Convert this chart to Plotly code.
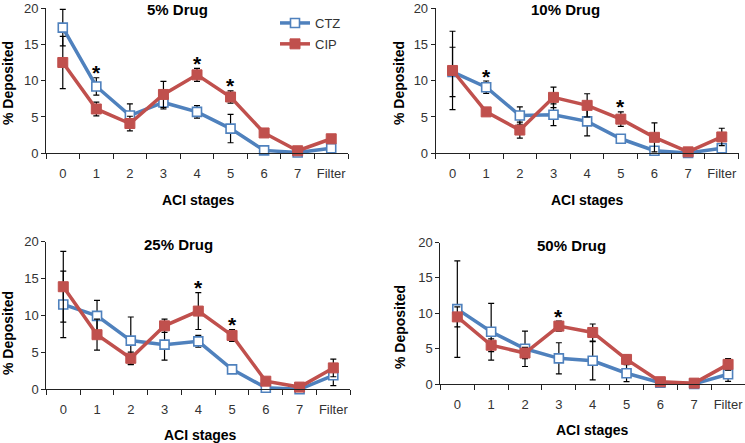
import plotly.graph_objects as go

W, H = 745, 443

stages = ["0", "1", "2", "3", "4", "5", "6", "7", "Filter"]

# 5% Drug
ctz5 = [17.3, 9.2, 5.2, 7.0, 5.7, 3.4, 0.4, 0.1, 0.7]
ctz5_err = [2.5, 1.2, 1.6, 0.9, 0.85, 1.95, 0.2, 0.1, 0.3]
cip5 = [12.5, 6.1, 4.1, 8.1, 10.8, 7.75, 2.8, 0.35, 2.0]
cip5_err = [3.6, 0.95, 1.0, 1.8, 0.9, 0.85, 0.3, 0.2, 0.4]
stars5 = [1, 4, 5]

# 10% Drug
ctz10 = [11.2, 9.1, 5.2, 5.3, 4.4, 2.0, 0.35, 0.05, 0.7]
ctz10_err = [3.4, 0.85, 1.2, 1.5, 2.0, 0.3, 0.2, 0.05, 0.3]
cip10 = [11.4, 5.7, 3.2, 7.7, 6.6, 4.7, 2.2, 0.2, 2.25]
cip10_err = [5.4, 0.3, 1.1, 1.4, 1.6, 1.0, 2.0, 0.1, 1.2]
stars10 = [1, 5]

# 25% Drug
ctz25 = [11.5, 9.95, 6.6, 6.05, 6.5, 2.7, 0.2, 0.0, 1.9]
ctz25_err = [4.5, 2.1, 3.2, 2.1, 0.8, 0.3, 0.2, 0.1, 1.4]
cip25 = [13.9, 7.4, 4.2, 8.6, 10.6, 7.3, 1.1, 0.3, 2.9]
cip25_err = [4.8, 2.1, 0.85, 0.9, 2.5, 0.8, 0.3, 0.2, 1.2]
stars25 = [4, 5]

# 50% Drug
ctz50 = [10.6, 7.4, 5.0, 3.65, 3.3, 1.55, 0.2, 0.05, 1.4]
ctz50_err = [6.8, 4.0, 2.5, 2.2, 2.7, 1.2, 0.1, 0.05, 1.0]
cip50 = [9.5, 5.5, 4.4, 8.2, 7.3, 3.5, 0.35, 0.15, 2.8]
cip50_err = [1.4, 0.9, 0.8, 0.7, 1.2, 0.6, 0.2, 0.1, 0.8]
stars50 = [3]

titles = ["5% Drug", "10% Drug", "25% Drug", "50% Drug"]
y_ticks = [0, 5, 10, 15, 20]

BLUE = "#4F81BD"
RED = "#C0504D"
FONT = "Liberation Sans, Arial, sans-serif"


def px(x):
    return x / W


def py(y):
    return 1 - y / H


panels = [
    dict(ctz=ctz5, ce=ctz5_err, cip=cip5, pe=cip5_err, stars=stars5,
         dx=(46, 348), dy=(8, 153.3), title=(177, 9.5), xt=(198, 200), yt=(8, 83)),
    dict(ctz=ctz10, ce=ctz10_err, cip=cip10, pe=cip10_err, stars=stars10,
         dx=(435.7, 738.6), dy=(8, 153.3), title=(565, 9.5), xt=(587, 200), yt=(399, 83)),
    dict(ctz=ctz25, ce=ctz25_err, cip=cip25, pe=cip25_err, stars=stars25,
         dx=(46.4, 350.2), dy=(241.7, 389.3), title=(178, 244), xt=(200, 435), yt=(8, 333)),
    dict(ctz=ctz50, ce=ctz50_err, cip=cip50, pe=cip50_err, stars=stars50,
         dx=(440.4, 745), dy=(242.5, 384.2), title=(571, 246), xt=(592, 430), yt=(400, 327)),
]

fig = go.Figure()
annotations = []
layout = {}

for i, p in enumerate(panels):
    n = "" if i == 0 else str(i + 1)
    xa, ya = "x" + n, "y" + n
    show = i == 0
    fig.add_trace(go.Scatter(
        x=stages, y=p["ctz"], xaxis=xa, yaxis=ya, name="CTZ",
        legendgroup="ctz", showlegend=show, mode="lines+markers",
        line=dict(color=BLUE, width=3.5),
        marker=dict(symbol="square", size=9, color="white",
                    line=dict(color=BLUE, width=1.6)),
        error_y=dict(type="data", array=p["ce"], visible=True,
                     color="#000000", thickness=1.2, width=3),
        cliponaxis=False,
    ))
    fig.add_trace(go.Scatter(
        x=stages, y=p["cip"], xaxis=xa, yaxis=ya, name="CIP",
        legendgroup="cip", showlegend=show, mode="lines+markers",
        line=dict(color=RED, width=3.5),
        marker=dict(symbol="square", size=10, color=RED,
                    line=dict(color=RED, width=1)),
        error_y=dict(type="data", array=p["pe"], visible=True,
                     color="#000000", thickness=1.2, width=3),
        cliponaxis=False,
    ))
    layout["xaxis" + n] = dict(
        domain=[px(p["dx"][0]), px(p["dx"][1])], anchor=ya, automargin=False,
        type="category", categoryorder="array", categoryarray=stages,
        range=[-0.5, 8.5], tickson="boundaries", ticks="outside",
        ticklen=5, tickcolor="#222", tickwidth=1, tickangle=0,
        ticklabelstandoff=8, ticklabeloverflow="allow",
        showline=True, linecolor="#222", linewidth=1,
        showgrid=False, zeroline=False,
        tickfont=dict(family=FONT, size=13, color="#333"),
    )
    layout["yaxis" + n] = dict(
        domain=[py(p["dy"][1]), py(p["dy"][0])], anchor=xa, automargin=False,
        range=[0, 20], tickvals=y_ticks, ticks="outside",
        ticklen=4, tickcolor="#222", tickwidth=1, ticklabeloverflow="allow",
        showline=True, linecolor="#222", linewidth=1,
        showgrid=False, zeroline=False,
        tickfont=dict(family=FONT, size=13, color="#333"),
    )
    # panel title
    annotations.append(dict(
        text="<b>%s</b>" % titles[i], x=px(p["title"][0]), y=py(p["title"][1]),
        xref="paper", yref="paper", xanchor="center", yanchor="middle",
        showarrow=False, font=dict(family=FONT, size=15, color="#000")))
    annotations.append(dict(
        text="<b>ACI stages</b>", x=px(p["xt"][0]), y=py(p["xt"][1]),
        xref="paper", yref="paper", xanchor="center", yanchor="middle",
        showarrow=False, font=dict(family=FONT, size=14, color="#000")))
    annotations.append(dict(
        text="<b>% Deposited</b>", x=px(p["yt"][0]), y=py(p["yt"][1]),
        xref="paper", yref="paper", xanchor="center", yanchor="middle",
        textangle=-90, showarrow=False,
        font=dict(family=FONT, size=14, color="#000")))
    # significance stars
    for s in p["stars"]:
        top = max(p["ctz"][s] + p["ce"][s], p["cip"][s] + p["pe"][s])
        annotations.append(dict(
            text="<b>*</b>", x=stages[s], y=top, xref=xa, yref=ya,
            xanchor="center", yanchor="middle", yshift=5, showarrow=False,
            font=dict(family=FONT, size=21, color="#000")))

fig.update_layout(
    width=W, height=H,
    margin=dict(l=0, r=0, t=0, b=0, autoexpand=False),
    paper_bgcolor="white", plot_bgcolor="white",
    font=dict(family=FONT, size=13, color="#333"),
    showlegend=True,
    legend=dict(x=px(275), y=py(8), xanchor="left", yanchor="top",
                bgcolor="rgba(0,0,0,0)", traceorder="grouped",
                tracegroupgap=1, itemwidth=30,
                font=dict(family=FONT, size=13, color="#333")),
    annotations=annotations,
    **layout,
)

post = (
    "var st=document.createElement('style');"
    "st.textContent='html,body{margin:0;padding:0;width:745px;height:443px;overflow:hidden;}';"
    "document.head.appendChild(st);"
    "var gd=document.getElementById('{plot_id}');"
    "gd.style.position='fixed';gd.style.top='0px';gd.style.left='0px';"
)

fig.write_html("out.html", config={"displayModeBar": False}, post_script=post)
